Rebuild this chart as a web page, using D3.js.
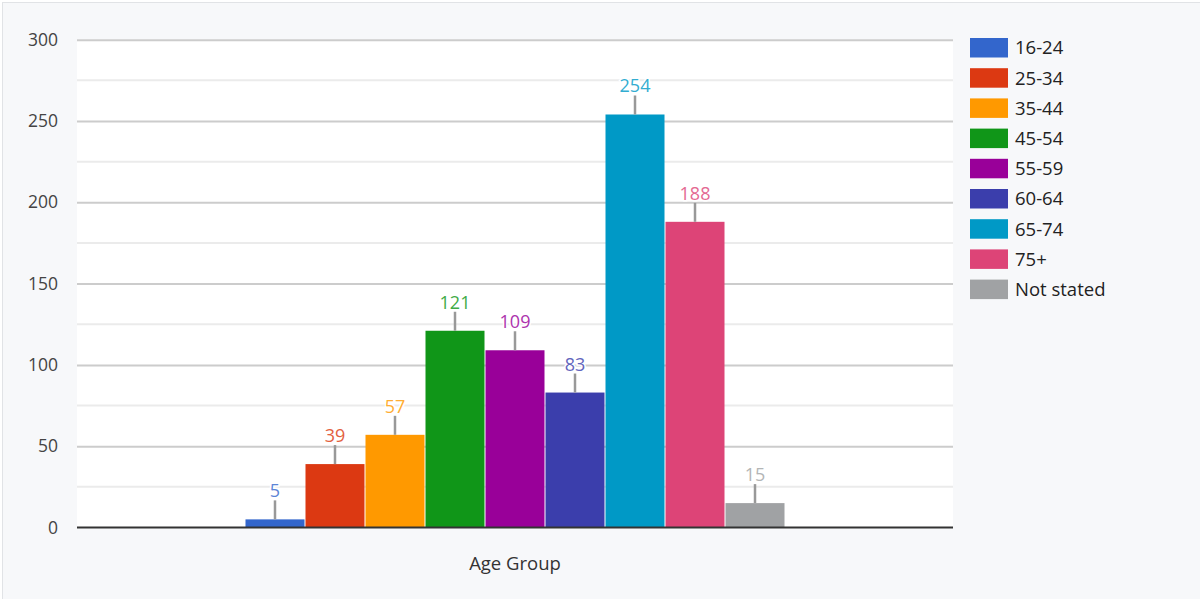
<!DOCTYPE html>
<html>
<head>
<meta charset="utf-8">
<script src="https://cdn.jsdelivr.net/npm/d3@7"></script>
<style>
  html, body { margin: 0; padding: 0; background: #ffffff; }
  svg { display: block; font-family: "Open Sans", "Noto Sans", sans-serif; }
</style>
</head>
<body>
<svg id="chart" width="1200" height="599"></svg>
<script>
// Respondents by age group
const categories = ["16-24", "25-34", "35-44", "45-54", "55-59", "60-64", "65-74", "75+", "Not stated"];
const values = [5, 39, 57, 121, 109, 83, 254, 188, 15];
const colors = ["#3366cc", "#dc3912", "#ff9900", "#109618", "#990099", "#3b3eac", "#0099c6", "#dd4477", "#a0a2a4"];
const groupLabel = ["Age Group"];
const yTicks = [0, 50, 100, 150, 200, 250, 300];
const yMinorTicks = [25, 75, 125, 175, 225, 275];

const svg = d3.select("#chart");
const W = 1200, H = 599;
const plot = { left: 77, right: 953, top: 39.7, bottom: 527.5 };

// card background
svg.append("rect")
  .attr("x", 2.5).attr("y", 2.5)
  .attr("width", W + 10).attr("height", H + 10)
  .attr("fill", "#f7f8fa")
  .attr("stroke", "#e1e3e6").attr("stroke-width", 1);

// plot area
svg.append("rect")
  .attr("x", plot.left).attr("y", plot.top)
  .attr("width", plot.right - plot.left).attr("height", plot.bottom - plot.top)
  .attr("fill", "#ffffff");

const y = d3.scaleLinear().domain([0, 300]).range([plot.bottom, plot.top]);
const x0 = d3.scaleBand().domain(groupLabel).range([plot.left, plot.right])
  .paddingInner(0).paddingOuter(0.3111);
const x1 = d3.scaleBand().domain(categories).range([0, x0.bandwidth()]).padding(0);
const color = d3.scaleOrdinal().domain(categories).range(colors);

// minor gridlines
svg.append("g").selectAll("line").data(yMinorTicks).join("line")
  .attr("x1", plot.left).attr("x2", plot.right)
  .attr("y1", d => y(d)).attr("y2", d => y(d))
  .attr("stroke", "#ebebeb").attr("stroke-width", 2);

// major gridlines + tick labels via axis
const yAxis = d3.axisLeft(y).tickValues(yTicks).tickSize(-(plot.right - plot.left)).tickPadding(19);
const gy = svg.append("g").attr("transform", `translate(${plot.left},0)`).call(yAxis);
gy.select(".domain").remove();
gy.selectAll(".tick line").attr("stroke", "#cccccc").attr("stroke-width", 2)
  .filter(d => d === 0).attr("stroke", "none");
gy.selectAll(".tick text")
  .attr("font-size", 17.5).attr("fill", "#444444")
  .attr("font-family", "\"Open Sans\", sans-serif");

// bars
const gx = x0("Age Group");
const bars = svg.append("g");
bars.selectAll("rect").data(categories).join("rect")
  .attr("x", d => gx + x1(d) + 0.5)
  .attr("y", (d, i) => y(values[i]))
  .attr("width", x1.bandwidth() - 1)
  .attr("height", (d, i) => y(0) - y(values[i]))
  .attr("fill", d => color(d));

// baseline
svg.append("line")
  .attr("x1", plot.left).attr("x2", plot.right)
  .attr("y1", y(0)).attr("y2", y(0))
  .attr("stroke", "#333333").attr("stroke-width", 2.2);

// value annotations with stems
const ann = svg.append("g");
categories.forEach((c, i) => {
  const cx = gx + x1(c) + x1.bandwidth() / 2;
  const top = y(values[i]);
  ann.append("line")
    .attr("x1", cx).attr("x2", cx)
    .attr("y1", top).attr("y2", top - 19)
    .attr("stroke", "#999999").attr("stroke-width", 2.5);
  ann.append("text")
    .attr("x", cx).attr("y", top - 22)
    .attr("text-anchor", "middle")
    .attr("font-size", 18)
    .attr("fill", d3.interpolateRgb(color(c), "#ffffff")(0.2))
    .attr("stroke", "#ffffff").attr("stroke-width", 3)
    .attr("paint-order", "stroke")
    .text(values[i]);
});

// x axis title
svg.append("text")
  .attr("x", gx + x0.bandwidth() / 2).attr("y", 570)
  .attr("text-anchor", "middle")
  .attr("font-size", 18.5).attr("fill", "#333333")
  .text(groupLabel[0]);

// legend
const legend = svg.append("g").attr("transform", "translate(970,38)");
const items = legend.selectAll("g").data(categories).join("g")
  .attr("transform", (d, i) => `translate(0,${i * 30.2})`);
items.append("rect")
  .attr("width", 38).attr("height", 19.5)
  .attr("fill", d => color(d));
items.append("text")
  .attr("x", 45).attr("y", 10).attr("dy", "0.35em")
  .attr("font-size", 18.5).attr("fill", "#222222")
  .text(d => d);
</script>
</body>
</html>
